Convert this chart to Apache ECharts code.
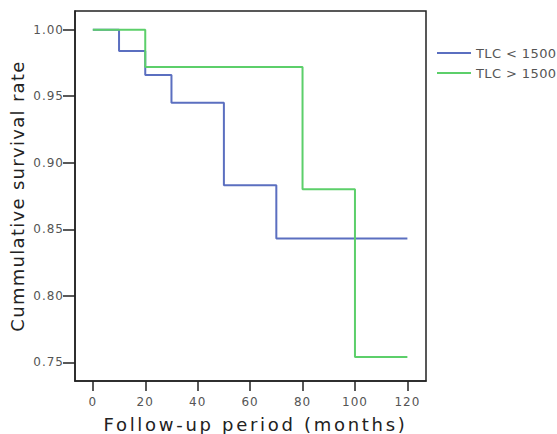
<!DOCTYPE html>
<html>
<head>
<meta charset="utf-8">
<script src="https://cdn.jsdelivr.net/npm/echarts@6/dist/echarts.min.js"></script>
<style>html,body{margin:0;padding:0;background:#fff;}#c{width:557px;height:434px;}</style>
</head>
<body>
<div id="c"></div>
<script>
const seriesNames = ['TLC < 1500', 'TLC > 1500'];
const lowTimes = [0, 10, 20, 30, 50, 70, 120];
const lowSurv  = [1.00, 0.984, 0.966, 0.945, 0.883, 0.843, 0.843];
const highTimes = [0, 20, 80, 100, 120];
const highSurv  = [1.00, 0.972, 0.880, 0.754, 0.754];
const xTicks = [0, 20, 40, 60, 80, 100, 120];
const yTicks = [0.75, 0.80, 0.85, 0.90, 0.95, 1.00];
const xTitle = 'Follow-up period (months)';
const yTitle = 'Cummulative survival rate';

const pair = (t, s) => t.map((v, i) => [v, s[i]]);
const font = 'DejaVu Sans';
const chart = echarts.init(document.getElementById('c'), null, { renderer: 'svg' });
chart.setOption({
  animation: false,
  textStyle: { fontFamily: font },
  grid: { left: 75, top: 11, right: 131, bottom: 53, show: true, borderColor: '#222', borderWidth: 1.5,
          containLabel: false, outerBoundsMode: 'none' },
  legend: {
    orient: 'vertical', left: 432, top: 39, itemWidth: 34, itemHeight: 2, itemGap: 2, icon: 'rect',
    textStyle: { fontSize: 13, lineHeight: 18, color: '#555', fontFamily: font },
    data: seriesNames
  },
  xAxis: {
    type: 'value', min: -6.8, max: 127.1,
    name: xTitle, nameLocation: 'middle', nameGap: 34,
    nameTextStyle: { fontSize: 18, color: '#222', fontFamily: font, padding: [0, 0, 0, 10] },
    axisLine: { show: true, onZero: false, lineStyle: { color: '#222', width: 1.5 } },
    axisTick: { show: true, length: 10, customValues: xTicks, lineStyle: { color: '#222', width: 1.5 } },
    axisLabel: { customValues: xTicks, margin: 15, fontSize: 12, color: '#555' },
    splitLine: { show: false }
  },
  yAxis: {
    type: 'value', min: 0.736, max: 1.014,
    name: yTitle, nameLocation: 'middle', nameGap: 48,
    nameTextStyle: { fontSize: 18, color: '#222', fontFamily: font },
    axisLine: { show: true, onZero: false, lineStyle: { color: '#222', width: 1.5 } },
    axisTick: { show: true, length: 12, customValues: yTicks, lineStyle: { color: '#222', width: 1.5 } },
    axisLabel: { customValues: yTicks, margin: 11, fontSize: 12, color: '#555', formatter: v => v.toFixed(2) },
    splitLine: { show: false }
  },
  series: [
    { name: seriesNames[0], type: 'line', step: 'end', symbol: 'none', data: pair(lowTimes, lowSurv),
      lineStyle: { color: '#5b6fc0', width: 2 }, itemStyle: { color: '#5b6fc0' } },
    { name: seriesNames[1], type: 'line', step: 'end', symbol: 'none', data: pair(highTimes, highSurv),
      lineStyle: { color: '#5ccf6a', width: 2 }, itemStyle: { color: '#5ccf6a' } }
  ]
});
function spaceText() {
  document.querySelectorAll('#c text').forEach(t => {
    const s = t.textContent;
    let ls = '1px';
    if (s === xTitle) ls = '2.7px';
    else if (s === yTitle) ls = '1.3px';
    else if (seriesNames.includes(s)) ls = '0.4px';
    t.style.letterSpacing = ls;
  });
}
spaceText();
chart.on('finished', spaceText);
setTimeout(spaceText, 0);
</script>
</body>
</html>
